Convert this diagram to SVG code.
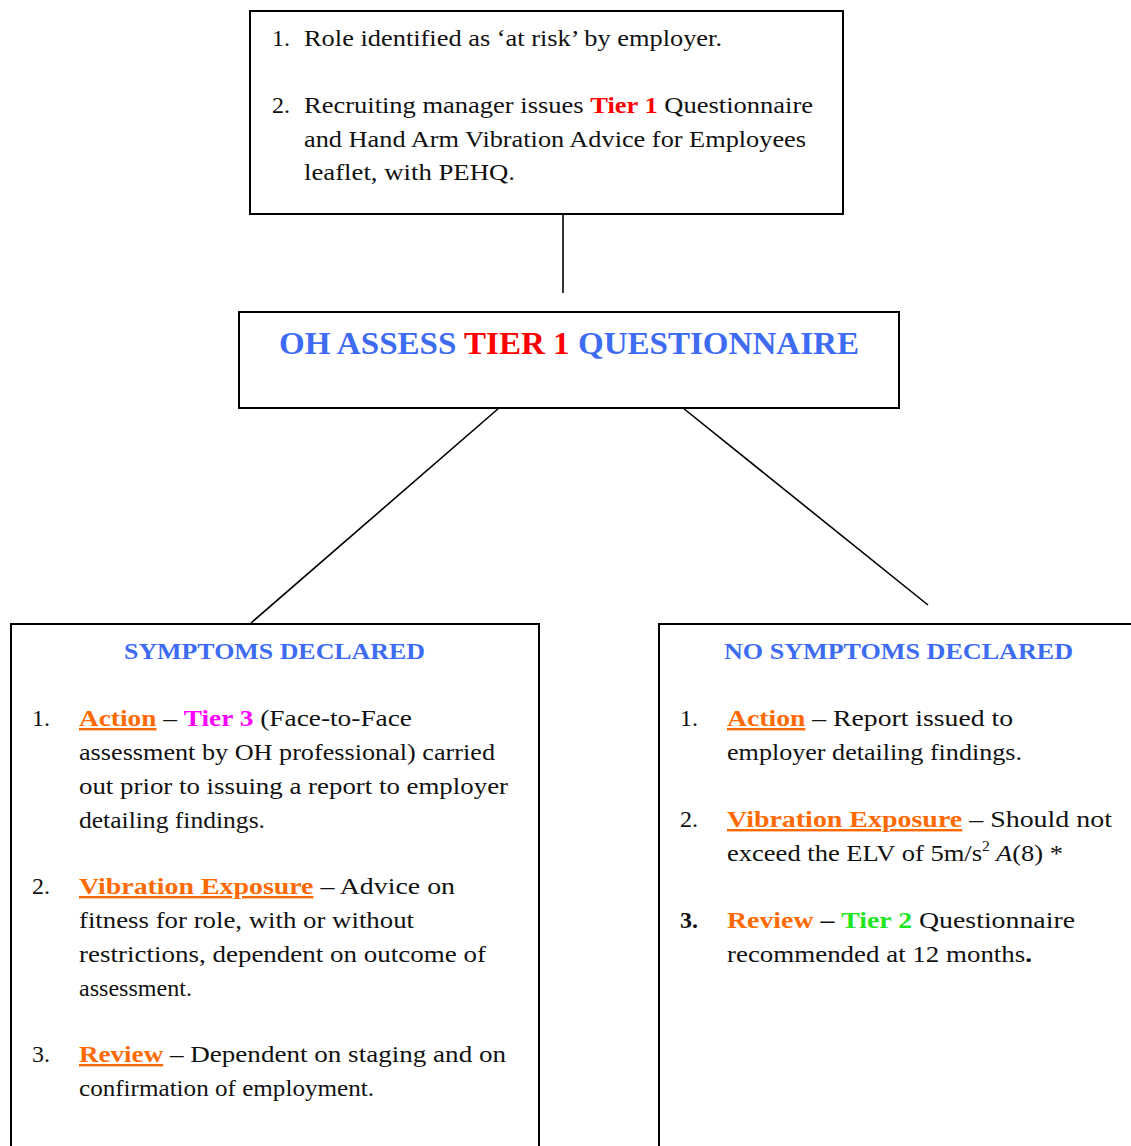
<svg xmlns="http://www.w3.org/2000/svg" width="1131" height="1146" viewBox="0 0 1131 1146">
<style>
  text { font-family: "Liberation Serif", "Times New Roman", serif; font-size: 24px; fill: #111; }
  .box { fill: #fff; stroke: #000; stroke-width: 2; }
  .conn { stroke: #000; stroke-width: 1.6; fill: none; }
  .h { font-weight: bold; fill: #3d6bf2; }
  .title { font-weight: bold; font-size: 31px; fill: #3d6bf2; }
  .red { fill: #ff0000; font-weight: bold; }
  .or { fill: #ff6a00; font-weight: bold; }
  .u { text-decoration: underline; }
  .mag { fill: #ff00ff; font-weight: bold; }
  .grn { fill: #1ee61e; font-weight: bold; }
  .b { font-weight: bold; }
</style>
<rect width="1131" height="1146" fill="#fff"/>
<g id="connectors">
  <line class="conn" x1="563" y1="214" x2="563" y2="293"/>
  <line class="conn" x1="499" y1="408" x2="251" y2="623"/>
  <line class="conn" x1="683" y1="408" x2="928" y2="605"/>
</g>
<g id="node-start">
  <rect class="box" x="250" y="11" width="593" height="203"/>
  <text x="272" y="46">1.</text>
  <text x="304" y="46" textLength="418" lengthAdjust="spacingAndGlyphs">Role identified as ‘at risk’ by employer.</text>
  <text x="272" y="113">2.</text>
  <text x="304" y="113" textLength="509" lengthAdjust="spacingAndGlyphs">Recruiting manager issues <tspan class="red">Tier 1</tspan> Questionnaire</text>
  <text x="304" y="147" textLength="502" lengthAdjust="spacingAndGlyphs">and Hand Arm Vibration Advice for Employees</text>
  <text x="304" y="180" textLength="211" lengthAdjust="spacingAndGlyphs">leaflet, with PEHQ.</text>
</g>
<g id="node-assess">
  <rect class="box" x="239" y="312" width="660" height="96"/>
  <text class="title" x="279" y="354" textLength="580" lengthAdjust="spacingAndGlyphs">OH ASSESS <tspan class="red">TIER 1</tspan> QUESTIONNAIRE</text>
</g>
<g id="node-symptoms">
  <rect class="box" x="11" y="624" width="528" height="530"/>
  <text class="h" x="124" y="659" textLength="301" lengthAdjust="spacingAndGlyphs">SYMPTOMS DECLARED</text>
  <text x="32" y="726">1.</text>
  <text x="79" y="726" textLength="333" lengthAdjust="spacingAndGlyphs"><tspan class="or u">Action</tspan> – <tspan class="mag">Tier 3</tspan> (Face-to-Face</text>
  <text x="79" y="760" textLength="416" lengthAdjust="spacingAndGlyphs">assessment by OH professional) carried</text>
  <text x="79" y="794" textLength="429" lengthAdjust="spacingAndGlyphs">out prior to issuing a report to employer</text>
  <text x="79" y="828" textLength="186" lengthAdjust="spacingAndGlyphs">detailing findings.</text>
  <text x="32" y="894">2.</text>
  <text x="79" y="894" textLength="376" lengthAdjust="spacingAndGlyphs"><tspan class="or u">Vibration Exposure</tspan> – Advice on</text>
  <text x="79" y="928" textLength="335" lengthAdjust="spacingAndGlyphs">fitness for role, with or without</text>
  <text x="79" y="962" textLength="407" lengthAdjust="spacingAndGlyphs">restrictions, dependent on outcome of</text>
  <text x="79" y="996" textLength="113" lengthAdjust="spacingAndGlyphs">assessment.</text>
  <text x="32" y="1062">3.</text>
  <text x="79" y="1062" textLength="427" lengthAdjust="spacingAndGlyphs"><tspan class="or u">Review</tspan> – Dependent on staging and on</text>
  <text x="79" y="1096" textLength="295" lengthAdjust="spacingAndGlyphs">confirmation of employment.</text>
</g>
<g id="node-no-symptoms">
  <rect class="box" x="659" y="624" width="480" height="530"/>
  <text class="h" x="724" y="659" textLength="349" lengthAdjust="spacingAndGlyphs">NO SYMPTOMS DECLARED</text>
  <text x="680" y="726">1.</text>
  <text x="727" y="726" textLength="286" lengthAdjust="spacingAndGlyphs"><tspan class="or u">Action</tspan> – Report issued to</text>
  <text x="727" y="760" textLength="295" lengthAdjust="spacingAndGlyphs">employer detailing findings.</text>
  <text x="680" y="827">2.</text>
  <text x="727" y="827" textLength="385" lengthAdjust="spacingAndGlyphs"><tspan class="or u">Vibration Exposure</tspan> – Should not</text>
  <text x="727" y="861" textLength="336" lengthAdjust="spacingAndGlyphs">exceed the ELV of 5m/s<tspan font-size="14" dy="-10">2</tspan><tspan dy="10" font-style="italic"> A</tspan>(8) *</text>
  <text class="b" x="680" y="928">3.</text>
  <text x="727" y="928" textLength="348" lengthAdjust="spacingAndGlyphs"><tspan class="or">Review</tspan> <tspan class="b">–</tspan> <tspan class="grn">Tier 2</tspan> Questionnaire</text>
  <text x="727" y="962" textLength="305" lengthAdjust="spacingAndGlyphs">recommended at 12 months<tspan class="b">.</tspan></text>
</g>
</svg>
